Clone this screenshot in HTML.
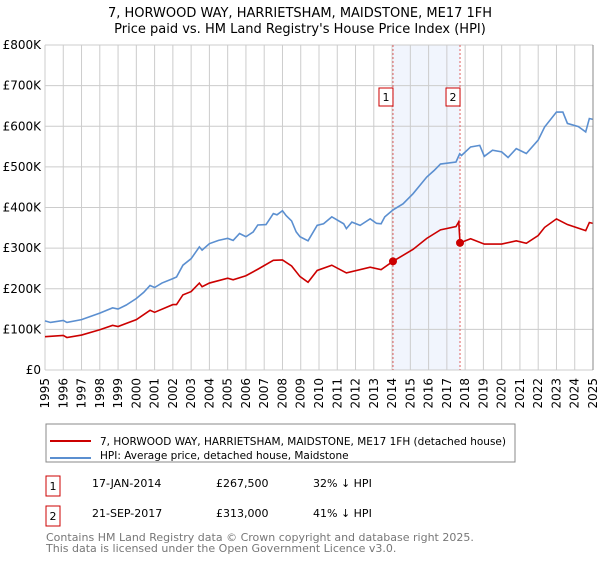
<!DOCTYPE html>
<html><head><meta charset="utf-8"><style>
body{margin:0;background:#fff;font-family:"Liberation Sans","DejaVu Sans",sans-serif;}
svg text{font-family:"DejaVu Sans","Liberation Sans",sans-serif;}
</style></head><body>
<svg id="c" width="600" height="560" xmlns="http://www.w3.org/2000/svg">
<text x="300" y="17" text-anchor="middle" font-size="13">7, HORWOOD WAY, HARRIETSHAM, MAIDSTONE, ME17 1FH</text>
<text x="300" y="33" text-anchor="middle" font-size="13">Price paid vs. HM Land Registry's House Price Index (HPI)</text>
<g id="grid"></g>
<g id="marks"></g>
<g id="axes"></g>
<rect x="46" y="424" width="469" height="38" fill="#fff" stroke="#888"/>
<line x1="50" y1="441" x2="91" y2="441" stroke="#cc0000" stroke-width="2"/>
<text x="100" y="445" font-size="10.5">7, HORWOOD WAY, HARRIETSHAM, MAIDSTONE, ME17 1FH (detached house)</text>
<line x1="50" y1="458" x2="91" y2="458" stroke="#5b8fd0" stroke-width="2"/>
<text x="100" y="459" font-size="10.5">HPI: Average price, detached house, Maidstone</text>
<g font-size="11">
<rect x="46" y="476" width="14" height="20" fill="#fff" stroke="#cc0000"/>
<text x="53" y="490" text-anchor="middle">1</text>
<text x="92" y="487">17-JAN-2014</text>
<text x="216" y="487">£267,500</text>
<text x="313" y="487">32% ↓ HPI</text>
<rect x="46" y="506" width="14" height="20" fill="#fff" stroke="#cc0000"/>
<text x="53" y="520" text-anchor="middle">2</text>
<text x="92" y="517">21-SEP-2017</text>
<text x="216" y="517">£313,000</text>
<text x="313" y="517">41% ↓ HPI</text>
</g>
<text x="46" y="541" font-size="11" fill="#777">Contains HM Land Registry data © Crown copyright and database right 2025.</text>
<text x="46" y="552" font-size="11" fill="#777">This data is licensed under the Open Government Licence v3.0.</text>
</svg>
<script>
const hpiDates=[1995,1995.3,1996,1996.2,1997,1998,1998.7,1999,1999.45,2000,2000.4,2000.75,2001,2001.4,2002,2002.2,2002.55,2003,2003.45,2003.6,2004,2004.5,2005,2005.3,2005.65,2006,2006.4,2006.65,2007.1,2007.5,2007.7,2008,2008.2,2008.5,2008.75,2008.96,2009.4,2009.9,2010.25,2010.7,2011.35,2011.5,2011.8,2012.25,2012.8,2013.15,2013.4,2013.6,2014.05,2014.6,2015.15,2015.9,2016.3,2016.65,2017.5,2017.7,2017.8,2018.3,2018.8,2019.05,2019.5,2020,2020.35,2020.8,2021.35,2022,2022.35,2023,2023.35,2023.6,2024.2,2024.6,2024.8,2025];
const hpiValues=[121,117,122,117,124,140,153,150,160,176,191,208,203,214,225,229,258,274,303,295,311,319,324,319,336,328,340,357,358,385,382,392,380,367,340,328,318,356,360,377,360,348,364,356,372,361,360,377,394,409,434,475,491,507,512,532,528,549,553,526,541,537,523,545,533,566,598,635,635,607,599,586,619,617];
const priceDates=[1995,1996,1996.2,1997,1998,1998.7,1999,2000,2000.75,2001,2002,2002.2,2002.55,2003,2003.45,2003.6,2004,2005,2005.3,2006,2006.65,2007.5,2008,2008.5,2008.96,2009.4,2009.9,2010.7,2011.5,2012.8,2013.4,2014.05,2015.15,2015.9,2016.65,2017.5,2017.65,2017.72,2018.3,2019.05,2020,2020.8,2021.35,2022,2022.35,2023,2023.6,2024.6,2024.8,2025];
const priceValues=[82,85,80,86,99,110,107,124,147,142,161,161,185,193,214,205,214,226,222,232,248,270,271,256,230,216,245,258,239,253,247,267.5,297,324,345,353,365,313,323,310,310,318,312,331,351,372,358,343,363,361];
const saleDates=[2014.05,2017.72];
const saleValues=[267.5,313];
const yTicks=[0,100,200,300,400,500,600,700,800];
const yLabels=["£0","£100K","£200K","£300K","£400K","£500K","£600K","£700K","£800K"];
const xYears=[1995,1996,1997,1998,1999,2000,2001,2002,2003,2004,2005,2006,2007,2008,2009,2010,2011,2012,2013,2014,2015,2016,2017,2018,2019,2020,2021,2022,2023,2024,2025];
const NS="http://www.w3.org/2000/svg";
const X0=45,X1=593,Y0=370,Y1=45;
const xs=d=>X0+(d-1995)/30*(X1-X0);
const ys=v=>Y0-v/800*(Y0-Y1);
function mk(tag,attrs,parent){const e=document.createElementNS(NS,tag);for(const k in attrs)e.setAttribute(k,attrs[k]);parent.appendChild(e);return e;}
const grid=document.getElementById('grid'),marks=document.getElementById('marks'),axes=document.getElementById('axes');
const sh=mk('rect',{x:xs(saleDates[0]),y:Y1,width:xs(saleDates[1])-xs(saleDates[0]),height:Y0-Y1,fill:'#f1f5fd'},grid);


yTicks.forEach((t,i)=>{
 const l=mk('line',{x1:X0,x2:X1,y1:ys(t),y2:ys(t),stroke:'#cccccc'},grid);
 
 
 const tx=mk('text',{x:X0-4,y:ys(t)+4,'text-anchor':'end','font-size':'12'},axes);
 tx.textContent=yLabels[i];
 
 
});
xYears.forEach(yr=>{
 const l=mk('line',{x1:xs(yr),x2:xs(yr),y1:Y1,y2:Y0,stroke:'#cccccc'},grid);
 
 
 const tx=mk('text',{x:0,y:0,'text-anchor':'end','font-size':'12',transform:`translate(${xs(yr)+4},${Y0+8}) rotate(-90)`},axes);
 tx.textContent=yr;
 
 
});
const rb=mk('line',{x1:X1,x2:X1,y1:Y1,y2:Y0,stroke:'#888'},axes);


saleDates.forEach((d,i)=>{
 const l=mk('line',{x1:xs(d),x2:xs(d),y1:Y1,y2:Y0,stroke:'#e06060','stroke-dasharray':'2,2'},marks);
 
 
});
const hp=mk('polyline',{points:hpiDates.map((d,i)=>xs(d)+','+ys(hpiValues[i])).join(' '),fill:'none',stroke:'#5b8fd0','stroke-width':'1.6'},marks);


const pp=mk('polyline',{points:priceDates.map((d,i)=>xs(d)+','+ys(priceValues[i])).join(' '),fill:'none',stroke:'#cc0000','stroke-width':'1.6'},marks);


saleDates.forEach((d,i)=>{
 const c=mk('circle',{cx:xs(d),cy:ys(saleValues[i]),r:4,fill:'#cc0000'},marks);
 
 
 const b=mk('rect',{x:xs(d)-14,y:88,width:14,height:18,fill:'#fff',stroke:'#cc0000'},marks);
 
 
 const t=mk('text',{x:xs(d)-7,y:101,'text-anchor':'middle','font-size':'11'},marks);
 t.textContent=String(i+1);
 
 
});
</script>
</body></html>
